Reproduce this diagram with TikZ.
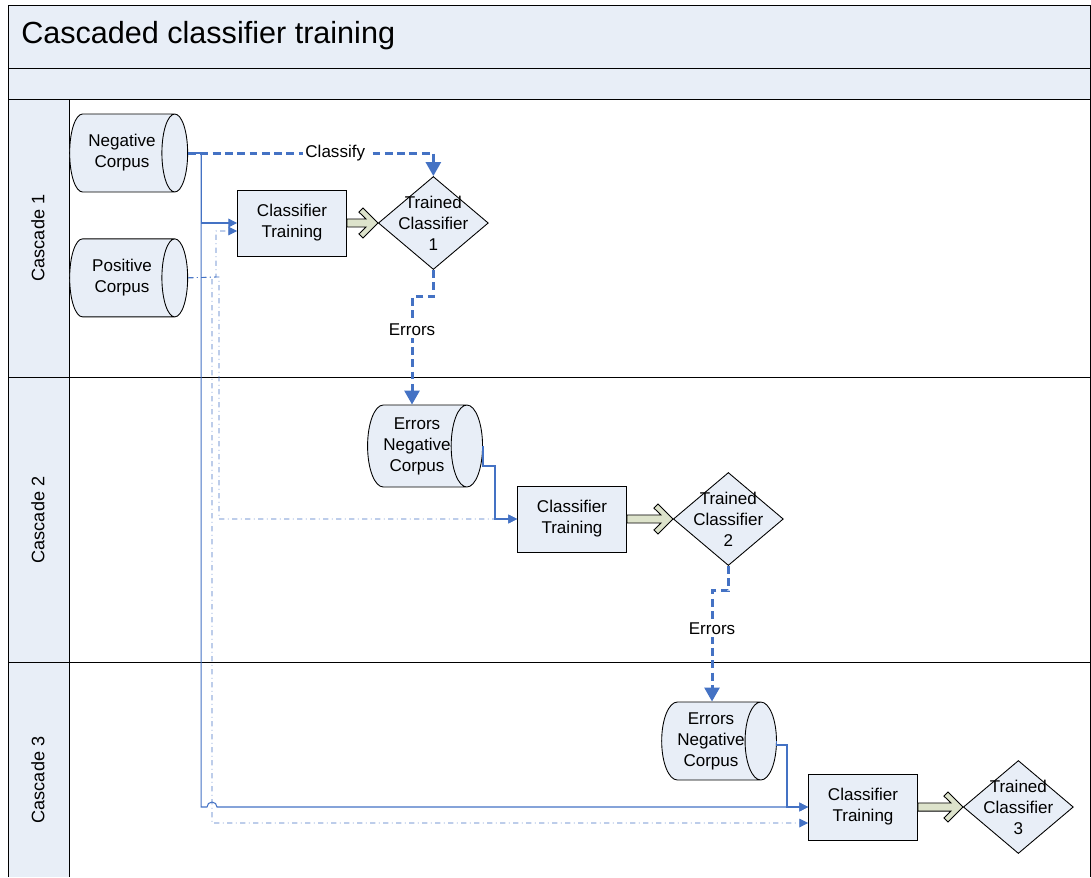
\documentclass[tikz,border=0pt]{standalone}
\usepackage{fontspec}
\setmainfont{Liberation Sans}
\usetikzlibrary{shapes.geometric, positioning, arrows.meta, calc}

\definecolor{laneblue}{RGB}{232,238,247}
\definecolor{flowblue}{RGB}{68,114,196}
\definecolor{arrowgreen}{RGB}{221,227,203}

% fat open arrow from a training box to its trained classifier
\newcommand{\resultarrow}[2]{%
  \draw[fill=arrowgreen, line width=0.5pt] let \p1=(#1.east), \p2=(#2.west) in
    (\x1,\y1+2.3pt) -- (\x2-6.8pt,\y1+2.3pt) -- (\x2-10.8pt,\y1+6.2pt) -- (\x2-8.5pt,\y1+8.5pt)
    -- (\x2,\y1) -- (\x2-8.5pt,\y1-8.5pt) -- (\x2-10.8pt,\y1-6.2pt) -- (\x2-6.8pt,\y1-2.3pt)
    -- (\x1,\y1-2.3pt) -- cycle;}

\begin{document}
\begin{tikzpicture}[x=0.02cm, y=-0.02cm, line width=0.5pt,
    font=\fontsize{9.7}{11.9}\selectfont,
    corpus/.style={cylinder, shape aspect=0.7, draw, fill=laneblue, minimum height=2.36cm, minimum width=1.56cm, align=center, inner sep=0pt},
    trainbox/.style={rectangle, draw, fill=laneblue, minimum width=2.18cm, minimum height=1.32cm, align=center},
    trained/.style={diamond, draw, fill=laneblue, minimum width=2.2cm, minimum height=1.86cm, inner sep=0pt},
    lanetext/.style={rotate=90, font=\fontsize{10.3}{12}\selectfont},
    flow/.style={flowblue, line width=1.7pt, dash pattern=on 4.5pt off 2.5pt, -{Triangle[length=8pt, width=8.5pt]}},
    flowtext/.style={fill=white, text=black, inner sep=1.5pt},
    feed/.style={flowblue, line width=0.6pt, -{Triangle[length=5pt, width=5pt]}},
    feeddot/.style={feed, line width=0.4pt, dash dot}]
                \useasboundingbox (0,0) rectangle (1091,877);

                % pool and lanes
                \draw[fill=laneblue] (8,5) rectangle (1090,68);
                \node[anchor=west, font=\fontsize{17.4}{20}\selectfont] (title) at (15,36) {Cascaded classifier training};
                \fill[laneblue] (8,68) rectangle (1090,99);
                \fill[laneblue] (8,99) rectangle (69,877);
                \draw (8,68) -- (1090,68) (8,99) -- (1090,99);
                \draw (8,68) -- (8,877) (69,99) -- (69,877) (1090,68) -- (1090,877);
                \draw (8,377) -- (1090,377) (8,662) -- (1090,662);
                \node[lanetext] (lane1) at (38,238) {Cascade 1};
                \node[lanetext] (lane2) at (38,520) {Cascade 2};
                \node[lanetext] (lane3) at (38,780) {Cascade 3};

                % cascade 1
                \node[corpus] (neg) at (122,153) {Negative\\Corpus};
                \node[corpus, below=0.92cm of neg] (pos) {Positive\\Corpus};
                \node[trainbox] (train1) at (292,223) {Classifier\\Training};
                \node[trained, right=0.62cm of train1, label={[align=center]center:Trained\\Classifier\\1}] (trained1) {};

                % cascade 2
                \node[corpus, shape aspect=0.55, minimum height=2.3cm, minimum width=1.64cm] (err1) at (417,446) {Errors\\Negative\\Corpus};
                \node[trainbox] (train2) at (572,519) {Classifier\\Training};
                \node[trained, right=0.92cm of train2, label={[align=center]center:Trained\\Classifier\\2}] (trained2) {};

                % cascade 3
                \node[corpus, shape aspect=0.55, minimum height=2.26cm] (err2) at (711,741) {Errors\\Negative\\Corpus};
                \node[trainbox] (train3) at (863,807) {Classifier\\Training};
                \node[trained, right=0.9cm of train3, label={[align=center]center:Trained\\Classifier\\3}] (trained3) {};

                \draw[flow] (neg.east) -| node[pos=0.3, flowtext] {Classify} (trained1.north);
                \draw[flow] (trained1.south) -- ++(0,27) -| node[pos=0.65, flowtext] {Errors} ([xshift=-0.1cm]err1.north);
                \draw[flow] (trained2.south) -- ++(0,25) -| node[pos=0.67, flowtext] {Errors} ([xshift=0.02cm]err2.north);

                \draw[feed] (neg.east) -- ++(13,0) |- (train1.west);
                \draw[feed] (neg.east) -- ++(13,0) |- (207,807) arc[start angle=180, end angle=360, radius=5] -- (train3.west);
                \draw[feeddot] (pos.east) -- (216,277) |- ([yshift=-0.16cm]train1.west);
                \draw[feeddot] (pos.east) -- (219,277) |- (train2.west);
                \draw[feeddot] (pos.east) -- (212,277) |- ([yshift=-0.32cm]train3.west);
                \draw[feed] (err1.east) |- (495,466) |- (train2.west);
                \draw[feed] (err2.east) |- (787,745) |- (train3.west);

                \resultarrow{train1}{trained1}
                \resultarrow{train2}{trained2}
                \resultarrow{train3}{trained3}

             \end{tikzpicture}
\end{document}
